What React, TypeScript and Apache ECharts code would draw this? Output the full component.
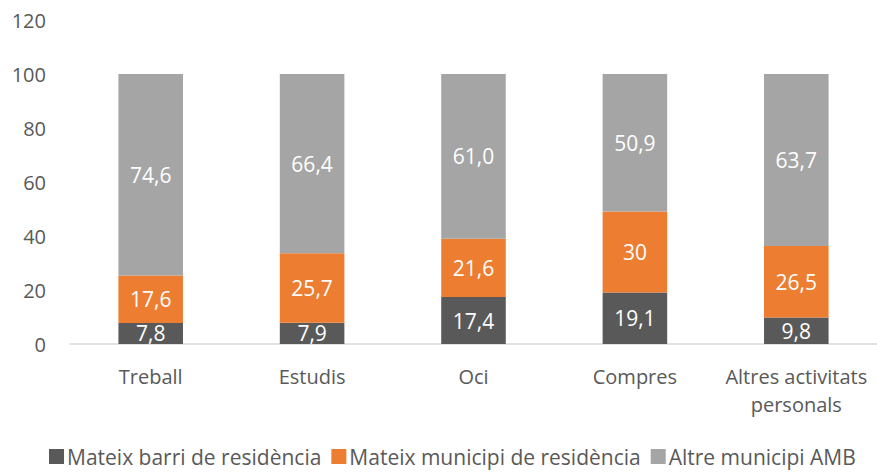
import React, { useEffect, useRef } from "react";
import * as echarts from "echarts";

const categories = ["Treball", "Estudis", "Oci", "Compres", "Altres activitats\npersonals"];
const seriesNames = ["Mateix barri de residència", "Mateix municipi de residència", "Altre municipi AMB"];
const barri = [7.8, 7.9, 17.4, 19.1, 9.8];
const municipi = [17.6, 25.7, 21.6, 30, 26.5];
const altre = [74.6, 66.4, 61.0, 50.9, 63.7];
const barriLabels = ["7,8", "7,9", "17,4", "19,1", "9,8"];
const municipiLabels = ["17,6", "25,7", "21,6", "30", "26,5"];
const altreLabels = ["74,6", "66,4", "61,0", "50,9", "63,7"];
const colors = ["#595959", "#ED7D31", "#A5A5A5"];

const FONT = "'Open Sans', sans-serif";

export default function App() {
  const ref = useRef<HTMLDivElement>(null);
  useEffect(() => {
    if (!ref.current) return;
    const chart = echarts.init(ref.current, null, { renderer: "svg" });
    const mk = (name: string, data: number[], labels: string[], color: string) => ({
      name,
      type: "bar",
      stack: "total",
      data,
      barCategoryGap: "60%",
      itemStyle: { color },
      label: {
        show: true,
        position: "inside",
        color: "#ffffff",
        fontFamily: FONT,
        fontSize: 21,
        formatter: (p: any) => labels[p.dataIndex],
      },
    });
    chart.setOption({
      animation: false,
      textStyle: { fontFamily: FONT },
      grid: { left: 70, top: 20, width: 810, height: 324, containLabel: false },
      legend: {
        top: 446,
        left: 49,
        padding: 0,
        itemWidth: 15,
        itemHeight: 15,
        itemGap: 10,
        icon: "rect",
        textStyle: { color: "#595959", fontSize: 21, fontFamily: FONT, padding: [0, 0, 0, -2] },
        data: seriesNames,
      },
      xAxis: {
        type: "category",
        data: categories,
        axisLine: { lineStyle: { color: "#D9D9D9", width: 1.5 } },
        axisTick: { show: false },
        axisLabel: { color: "#595959", fontSize: 20, fontFamily: FONT, margin: 18, lineHeight: 28, interval: 0 },
      },
      yAxis: {
        type: "value",
        min: 0,
        max: 120,
        interval: 20,
        splitLine: { show: false },
        axisLine: { show: false },
        axisTick: { show: false },
        axisLabel: { color: "#595959", fontSize: 20, fontFamily: FONT, margin: 24 },
      },
      series: [
        mk(seriesNames[0], barri, barriLabels, colors[0]),
        mk(seriesNames[1], municipi, municipiLabels, colors[1]),
        mk(seriesNames[2], altre, altreLabels, colors[2]),
      ],
    });
    return () => chart.dispose();
  }, []);
  return <div ref={ref} style={{ position: "absolute", left: 0, top: 0, width: 877, height: 472 }} />;
}
